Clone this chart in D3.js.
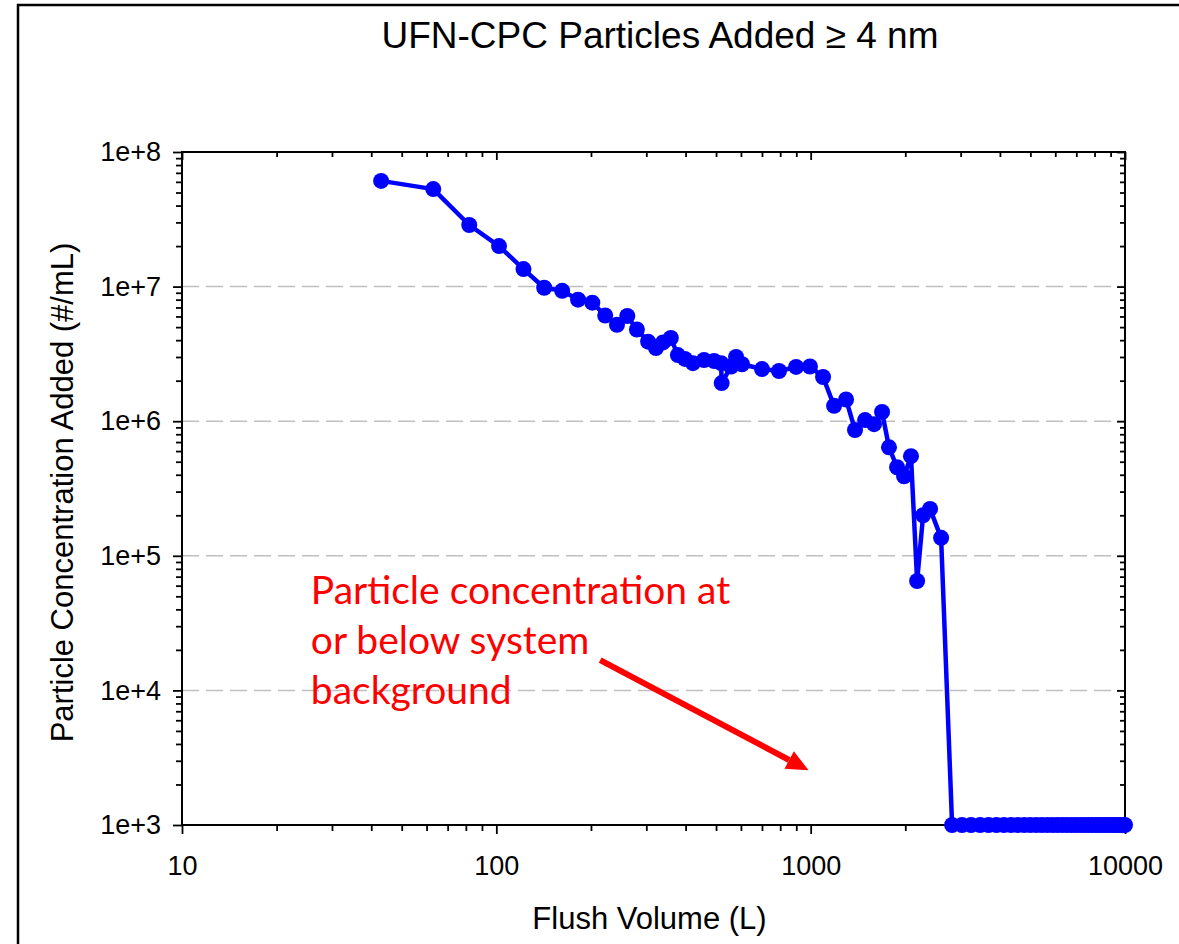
<!DOCTYPE html>
<html>
<head>
<meta charset="utf-8">
<script src="https://cdn.jsdelivr.net/npm/d3@7"></script>
<style>
  body { margin: 0; background: #fff; }
  svg { display: block; }
</style>
</head>
<body>
<div id="chart"></div>
<script>
// flush volume (L)
const flushVolume = [
  43, 63, 82, 102, 122, 142, 162, 182, 202, 222, 242, 261, 280, 304, 322, 339, 359,
  378, 398, 422, 458, 493, 519, 521, 558, 579, 605, 700, 793, 899, 995, 1095,
  1187, 1296, 1384, 1490, 1591, 1687, 1775, 1883, 1982, 2085, 2181, 2279, 2398, 2600,
  2818, 3030, 3240, 3460, 3680, 3900, 4120, 4340, 4560, 4780, 5000, 5220, 5440, 5660,
  5880, 6100, 6320, 6540, 6760, 6980, 7200, 7420, 7640, 7860, 8080, 8300, 8520, 8740,
  8960, 9180, 9400, 9620, 9840, 10000
];
// particle concentration added (#/mL)
const concentration = [
  6.1e7, 5.3e7, 2.87e7, 2.0e7, 1.35e7, 9.8e6, 9.3e6, 8.0e6, 7.6e6, 6.1e6, 5.2e6, 6.05e6, 4.8e6, 3.9e6, 3.5e6, 3.85e6, 4.15e6,
  3.1e6, 2.9e6, 2.7e6, 2.85e6, 2.8e6, 2.7e6, 1.92e6, 2.55e6, 3.0e6, 2.65e6, 2.44e6, 2.36e6, 2.53e6, 2.55e6, 2.13e6,
  1.3e6, 1.45e6, 8.6e5, 1.02e6, 9.5e5, 1.17e6, 6.4e5, 4.55e5, 3.9e5, 5.5e5, 6.5e4, 2.0e5, 2.23e5, 1.36e5,
  1e3, 1e3, 1e3, 1e3, 1e3, 1e3, 1e3, 1e3, 1e3, 1e3, 1e3, 1e3, 1e3, 1e3,
  1e3, 1e3, 1e3, 1e3, 1e3, 1e3, 1e3, 1e3, 1e3, 1e3, 1e3, 1e3, 1e3, 1e3,
  1e3, 1e3, 1e3, 1e3, 1e3, 1e3
];
const xTickValues = [10, 100, 1000, 10000];
const xTickLabels = ['10', '100', '1000', '10000'];
const yTickValues = [1e3, 1e4, 1e5, 1e6, 1e7, 1e8];
const yTickLabels = ['1e+3', '1e+4', '1e+5', '1e+6', '1e+7', '1e+8'];
const gridValues = [1e4, 1e5, 1e6, 1e7];
const titleText = 'UFN-CPC Particles Added \u2265 4 nm';
const xLabel = 'Flush Volume (L)';
const yLabel = 'Particle Concentration Added (#/mL)';
const noteLines = ['Particle concentration at', 'or below system', 'background'];
// annotation anchors in data units: text start, arrow start, arrow tip
const noteAt = { x: 25.7, y: 4.4e4 };
const arrowFrom = { x: 214, y: 1.68e4 };
const arrowTo = { x: 985, y: 2.55e3 };

const data = flushVolume.map((v, i) => ({ v, c: concentration[i] }));

const W = 1179, H = 944;
const margin = { top: 152, right: 54, bottom: 119, left: 182 };
const width = W - margin.left - margin.right;
const height = H - margin.top - margin.bottom;
const font = "'Liberation Sans', Arial, sans-serif";

const svg = d3.select('#chart').append('svg')
  .attr('width', W)
  .attr('height', H);

// outer chart frame
svg.append('rect')
  .attr('x', 18).attr('y', 5)
  .attr('width', W).attr('height', H)
  .attr('fill', 'none')
  .attr('stroke', '#000')
  .attr('stroke-width', 2.5);

const g = svg.append('g').attr('transform', `translate(${margin.left},${margin.top})`);

const x = d3.scaleLog().domain([10, 10000]).range([0, width]);
const y = d3.scaleLog().domain([1e3, 1e8]).range([height, 0]);

function minorTicks(lo, hi) {
  const out = [];
  for (let d = lo; d < hi; d *= 10) for (let k = 2; k <= 9; k++) out.push(k * d);
  return out;
}
const xMinor = minorTicks(10, 10000);
const yMinor = minorTicks(1e3, 1e8);

// grid
g.append('g').selectAll('line')
  .data(gridValues)
  .join('line')
  .attr('x1', 0).attr('x2', width)
  .attr('y1', d => y(d)).attr('y2', d => y(d))
  .attr('stroke', '#c0c0c0')
  .attr('stroke-width', 1.5)
  .attr('stroke-dasharray', '17,7');

function styleAxis(sel) {
  sel.select('.domain').remove();
  sel.selectAll('.tick line').attr('stroke', '#000').attr('stroke-width', 1.8);
  sel.selectAll('text').attr('font-family', font).attr('font-size', 27).attr('fill', '#000');
}

// bottom axis (outward ticks)
g.append('g').attr('transform', `translate(0,${height})`)
  .call(d3.axisBottom(x).tickValues(xMinor).tickSize(6).tickFormat(''))
  .call(styleAxis);
g.append('g').attr('transform', `translate(0,${height})`)
  .call(d3.axisBottom(x).tickValues(xTickValues).tickSize(9).tickPadding(22)
    .tickFormat((d, i) => xTickLabels[i]))
  .call(styleAxis);
// top axis (inward ticks)
g.append('g')
  .call(d3.axisBottom(x).tickValues(xMinor).tickSize(5).tickFormat(''))
  .call(styleAxis);
g.append('g')
  .call(d3.axisBottom(x).tickValues(xTickValues).tickSize(8).tickFormat(''))
  .call(styleAxis);
// left axis (outward ticks)
g.append('g')
  .call(d3.axisLeft(y).tickValues(yMinor).tickSize(6).tickFormat(''))
  .call(styleAxis);
g.append('g')
  .call(d3.axisLeft(y).tickValues(yTickValues).tickSize(9).tickPadding(12)
    .tickFormat((d, i) => yTickLabels[i]))
  .call(styleAxis);
// right axis (inward ticks)
g.append('g').attr('transform', `translate(${width},0)`)
  .call(d3.axisLeft(y).tickValues(yMinor).tickSize(5).tickFormat(''))
  .call(styleAxis);
g.append('g').attr('transform', `translate(${width},0)`)
  .call(d3.axisLeft(y).tickValues(yTickValues).tickSize(8).tickFormat(''))
  .call(styleAxis);

// plot frame
g.append('rect')
  .attr('width', width).attr('height', height)
  .attr('fill', 'none')
  .attr('stroke', '#000')
  .attr('stroke-width', 2);

// series
const line = d3.line().x(d => x(d.v)).y(d => y(d.c));
g.append('path')
  .datum(data)
  .attr('d', line)
  .attr('fill', 'none')
  .attr('stroke', '#0000ff')
  .attr('stroke-width', 4.5)
  .attr('stroke-linejoin', 'round');
g.append('g').selectAll('circle')
  .data(data)
  .join('circle')
  .attr('cx', d => x(d.v))
  .attr('cy', d => y(d.c))
  .attr('r', 8)
  .attr('fill', '#0000ff');

// annotation
const note = g.append('text')
  .attr('x', x(noteAt.x))
  .attr('y', y(noteAt.y))
  .attr('font-family', "Lato, 'Open Sans', sans-serif")
  .attr('font-size', 39)
  .attr('fill', '#ff0000');
note.selectAll('tspan')
  .data(noteLines)
  .join('tspan')
  .attr('x', x(noteAt.x))
  .attr('dy', (d, i) => i === 0 ? 0 : 50)
  .text(d => d);

const ax0 = x(arrowFrom.x), ay0 = y(arrowFrom.y);
const ax1 = x(arrowTo.x), ay1 = y(arrowTo.y);
const ang = Math.atan2(ay1 - ay0, ax1 - ax0);
const headLen = 22, headW = 10;
const bx = ax1 - headLen * Math.cos(ang), by = ay1 - headLen * Math.sin(ang);
g.append('line')
  .attr('x1', ax0).attr('y1', ay0)
  .attr('x2', bx).attr('y2', by)
  .attr('stroke', '#ff0000')
  .attr('stroke-width', 6);
g.append('path')
  .attr('d', `M${ax1},${ay1}L${bx + headW * Math.sin(ang)},${by - headW * Math.cos(ang)}L${bx - headW * Math.sin(ang)},${by + headW * Math.cos(ang)}Z`)
  .attr('fill', '#ff0000');

// titles
svg.append('text')
  .attr('x', 660).attr('y', 48)
  .attr('text-anchor', 'middle')
  .attr('font-family', font)
  .attr('font-size', 37)
  .text(titleText);
svg.append('text')
  .attr('x', margin.left + width / 2 - 4).attr('y', 929)
  .attr('text-anchor', 'middle')
  .attr('font-family', font)
  .attr('font-size', 31)
  .text(xLabel);
svg.append('text')
  .attr('transform', `translate(73,${margin.top + height / 2 + 4}) rotate(-90)`)
  .attr('text-anchor', 'middle')
  .attr('font-family', font)
  .attr('font-size', 31)
  .text(yLabel);
</script>
</body>
</html>
